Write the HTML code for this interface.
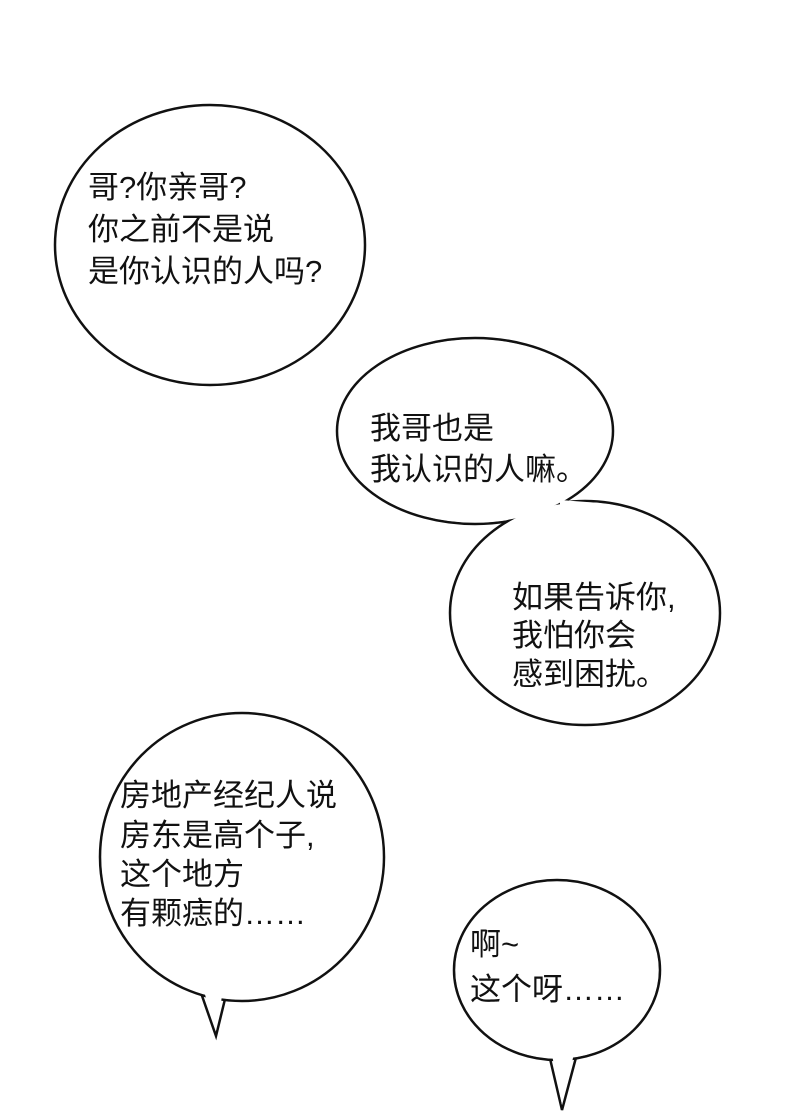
<!DOCTYPE html>
<html><head><meta charset="utf-8"><style>
html,body{margin:0;padding:0;background:#fff;}
svg{display:block}
text{font-family:"Liberation Sans","Noto Sans CJK SC",sans-serif;font-size:31px;fill:#111;}
</style></head><body>
<svg width="800" height="1118" viewBox="0 0 800 1118" xmlns="http://www.w3.org/2000/svg">
<rect width="800" height="1118" fill="#fff"/>
<g stroke="#111" stroke-width="2.5" fill="#fff">
<ellipse cx="210" cy="245" rx="155" ry="140"/>
<ellipse cx="475" cy="431" rx="138" ry="93"/>
<ellipse cx="585" cy="613" rx="135" ry="112"/>
<path d="M200 990 L216 1036 L226 995 Z"/>
<ellipse cx="242" cy="857" rx="142" ry="144"/>
<path d="M548 1050 L562 1110 L578 1050 Z"/>
<ellipse cx="557" cy="970" rx="103" ry="90"/>
</g>
<g fill="#fff">
<ellipse cx="475" cy="431" rx="136.5" ry="91.5"/>
<ellipse cx="585" cy="613" rx="133.5" ry="110.5"/>
<path d="M560 505 Q590 520 600 503 L560 500 Z"/>
<ellipse cx="242" cy="857" rx="140.5" ry="142.5"/>
<ellipse cx="557" cy="970" rx="101.5" ry="88.5"/>
<path d="M202 985 L216 1030 L224 985 Z"/>
<path d="M550 1045 L562 1105 L576 1045 Z"/>
</g>
<g style="font-size:32px">
<text x="88" y="198">哥?你亲哥?</text>
<text x="88" y="240">你之前不是说</text>
<text x="88" y="282">是你认识的人吗?</text>
</g>
<text x="370" y="439">我哥也是</text>
<text x="370" y="480">我认识的人嘛。</text>
<text x="512" y="608">如果告诉你,</text>
<text x="512" y="646">我怕你会</text>
<text x="512" y="685">感到困扰。</text>
<g style="font-size:33px">
<text x="120" y="806">房地产经纪人说</text>
<text x="120" y="846">房东是高个子,</text>
<text x="120" y="885">这个地方</text>
<text x="120" y="924">有颗痣的……</text>
</g>
<text x="470" y="955">啊~</text>
<text x="470" y="1000">这个呀……</text>
</svg>
</body></html>
